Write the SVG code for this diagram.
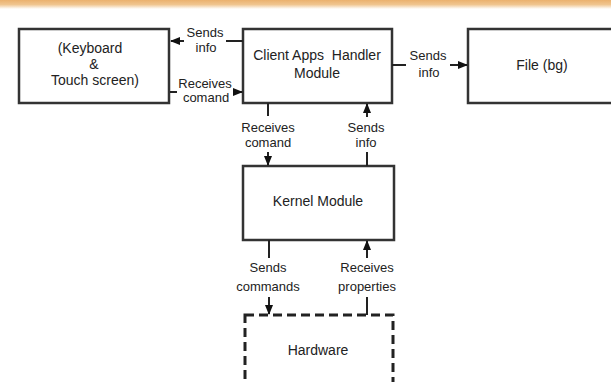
<svg xmlns="http://www.w3.org/2000/svg" width="611" height="382" viewBox="0 0 611 382">
<style>
.box{fill:#fff;stroke:#333;stroke-width:2.5}
.dash{fill:#fff;stroke:#222;stroke-width:3;stroke-dasharray:9 5}
.t{font-family:"Liberation Sans",Arial,sans-serif;font-size:14px;fill:#222;text-anchor:middle}
.l{font-family:"Liberation Sans",Arial,sans-serif;font-size:13px;fill:#222;text-anchor:middle}
.c{fill:none;stroke:#222;stroke-width:2}
</style>
<defs>
<linearGradient id="bar" x1="0" y1="0" x2="0" y2="1">
<stop offset="0" stop-color="#EBB16E"/>
<stop offset="0.5" stop-color="#F0C58F"/>
<stop offset="1" stop-color="#FFFFFF"/>
</linearGradient>
<marker id="ah" markerWidth="10" markerHeight="8" refX="9" refY="4" orient="auto" markerUnits="userSpaceOnUse">
<path d="M0,0 L10,4 L0,8 Z" fill="#111"/>
</marker>
</defs>
<rect x="0" y="0" width="611" height="382" fill="#fff"/>
<rect x="0" y="0" width="611" height="9" fill="url(#bar)"/>

<g id="keyboard">
<rect class="box" x="19" y="29" width="150" height="74"/>
<text class="t" x="90" y="53">(Keyboard</text>
<text class="t" x="94" y="69">&amp;</text>
<text class="t" x="95" y="85">Touch screen)</text>
</g>
<g id="client">
<rect class="box" x="243" y="29" width="149" height="74"/>
<text class="t" x="317" y="60" xml:space="preserve">Client Apps  Handler</text>
<text class="t" x="317" y="78">Module</text>
</g>
<g id="file">
<rect class="box" x="468" y="29" width="152" height="74"/>
<text class="t" x="542" y="70">File (bg)</text>
</g>
<g id="kernel">
<rect class="box" x="243" y="166" width="151" height="74"/>
<text class="t" x="318" y="206">Kernel Module</text>
</g>
<g id="hardware">
<rect class="dash" x="245" y="315" width="148" height="80"/>
<text class="t" x="318" y="355">Hardware</text>
</g>

<g id="connectors">
<path class="c" d="M243,41 H226"/>
<path class="c" d="M184,41 H171" marker-end="url(#ah)"/>
<path class="c" d="M170,92 H177"/>
<path class="c" d="M233,92 H242" marker-end="url(#ah)"/>
<path class="c" d="M392,65 H406"/>
<path class="c" d="M450,65 H467" marker-end="url(#ah)"/>
<path class="c" d="M268,103 V116"/>
<path class="c" d="M268,152 V165" marker-end="url(#ah)"/>
<path class="c" d="M367,166 V152"/>
<path class="c" d="M367,117 V104" marker-end="url(#ah)"/>
<path class="c" d="M269,240 V258"/>
<path class="c" d="M269,297 V314" marker-end="url(#ah)"/>
<path class="c" d="M367,315 V297"/>
<path class="c" d="M367,258 V241" marker-end="url(#ah)"/>
</g>

<g id="labels">
<text class="l" x="205" y="37">Sends</text>
<text class="l" x="206" y="52">info</text>
<text class="l" x="205" y="88">Receives</text>
<text class="l" x="206" y="102">comand</text>
<text class="l" x="428" y="60">Sends</text>
<text class="l" x="429" y="77">info</text>
<text class="l" x="268" y="132">Receives</text>
<text class="l" x="268" y="147">comand</text>
<text class="l" x="366" y="132">Sends</text>
<text class="l" x="366" y="147">info</text>
<text class="l" x="268" y="272">Sends</text>
<text class="l" x="268" y="291">commands</text>
<text class="l" x="367" y="272">Receives</text>
<text class="l" x="367" y="291">properties</text>
</g>
</svg>
